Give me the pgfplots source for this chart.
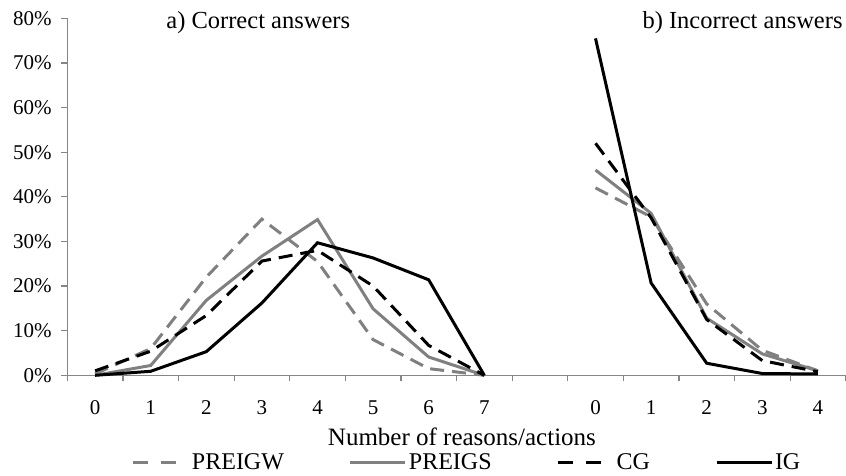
\documentclass[border=0pt]{standalone}
\usepackage{pgfplots}
\pgfplotsset{compat=1.18}
\usepackage{fontspec}
\setmainfont{Liberation Serif}
\definecolor{axgray}{RGB}{134,134,134}
\definecolor{sgray}{RGB}{128,128,128}
\pgfplotsset{
  dashleg/.style={legend image code/.code={\draw[##1, dash pattern=on 15pt off 13pt] (0pt,0pt) -- (55pt,0pt);}},
  solidleg/.style={legend image code/.code={\draw[##1] (0pt,0pt) -- (55pt,0pt);}},
}
\begin{document}
\begin{tikzpicture}
\begin{axis}[
  scale only axis,
  width=778.4pt, height=357pt,
  xmin=-0.5, xmax=13.5, ymin=0, ymax=80,
  axis x line*=bottom, axis y line*=left,
  axis line style={draw=axgray, line width=1.2pt, -},
  every tick/.style={draw=axgray, line width=1.2pt},
  tick align=outside,
  major tick length=6pt,
  xtick={-0.5,0.5,...,13.5},
  xticklabels={},
  extra x ticks={0,1,2,3,4,5,6,7,9,10,11,12,13},
  extra x tick labels={0,1,2,3,4,5,6,7,0,1,2,3,4},
  extra x tick style={major tick length=0pt, grid=none},
  xticklabel style={anchor=north, inner sep=0pt, yshift=-25.5pt, font=\fontsize{21}{25}\selectfont},
  ytick={0,10,...,80},
  yticklabels={0\%,10\%,20\%,30\%,40\%,50\%,60\%,70\%,80\%},
  yticklabel style={anchor=east, inner sep=0pt, xshift=-9.5pt, font=\fontsize{21}{25}\selectfont},
  /pgf/number format/assume math mode=true,
  clip=false,
  unbounded coords=jump,
  legend columns=4,
  legend style={draw=none, fill=none, inner sep=0pt, outer sep=0pt,
    at={(0.0831,-0.2445)}, anchor=west,
    font=\fontsize{24}{28}\selectfont,
    nodes={inner sep=0pt},
    /tikz/every odd column/.append style={column sep=2pt},
    /tikz/every even column/.append style={column sep=65pt}},
]
\addplot[sgray, line width=3pt, dash pattern=on 14pt off 8pt, dashleg]
  coordinates {(0,0.3) (1,6) (2,22) (3,35) (4,25.5) (5,8) (6,1.5) (7,0) (8,nan)
               (9,42) (10,35.5) (11,16) (12,5.6) (13,1)};
\addlegendentry{PREIGW}
\addplot[sgray, line width=3pt, solidleg]
  coordinates {(0,0) (1,2.2) (2,16.8) (3,26.7) (4,34.9) (5,14.9) (6,4.1) (7,0) (8,nan)
               (9,46) (10,36.3) (11,12.8) (12,4.8) (13,1)};
\addlegendentry{PREIGS}
\addplot[black, line width=3pt, dash pattern=on 14pt off 8pt, dashleg]
  coordinates {(0,1) (1,5.4) (2,13.4) (3,25.6) (4,28) (5,20) (6,6.7) (7,0) (8,nan)
               (9,52) (10,35.3) (11,12.5) (12,3.3) (13,0.8)};
\addlegendentry{CG}
\addplot[black, line width=3pt, solidleg]
  coordinates {(0,0) (1,0.9) (2,5.3) (3,16.2) (4,29.7) (5,26.3) (6,21.4) (7,0) (8,nan)
               (9,75.5) (10,20.7) (11,2.7) (12,0.4) (13,0.3)};
\addlegendentry{IG}
\node[anchor=base, inner sep=0pt, font=\fontsize{24.5}{29}\selectfont] at (axis cs:2.935,77.76) {a) Correct answers};
\node[anchor=base, inner sep=0pt, font=\fontsize{24.5}{29}\selectfont] at (axis cs:11.645,77.76) {b) Incorrect answers};
\node[anchor=base, inner sep=0pt, font=\fontsize{25}{30}\selectfont] at (axis description cs:0.507,-0.198) {Number of reasons/actions};
\end{axis}
\pgfresetboundingbox
\path (-67.3pt,-99.7pt) rectangle (778.7pt,375.3pt);
\end{tikzpicture}
\end{document}
